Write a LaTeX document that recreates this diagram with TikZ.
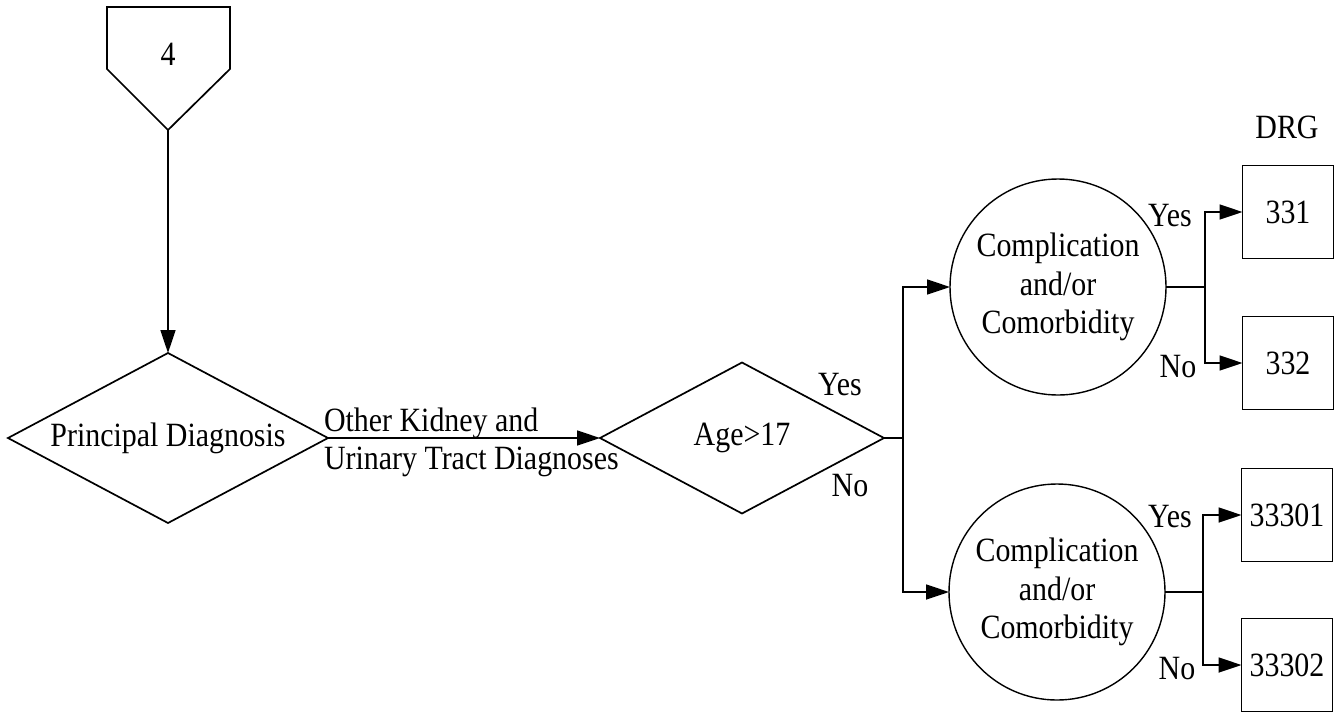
\documentclass[tikz,border=0pt]{standalone}
\usepackage{fontspec}
\setmainfont[FakeStretch=0.88]{Liberation Serif}
\usetikzlibrary{shapes.geometric,arrows.meta}

\begin{document}
\begin{tikzpicture}[
  x=1pt, y=-1pt,
  font=\fontsize{34}{38.5}\selectfont,
  line width=1.7pt,
  every node/.style={inner sep=0pt, outer sep=0pt},
  decision/.style={diamond, draw, aspect=1.9, minimum width=#1},
  ccnode/.style={circle, draw, minimum size=216pt, align=center, line width=1.4pt},
  drgbox/.style={rectangle, draw, minimum width=91pt, minimum height=93pt},
  arr/.style={-{Triangle[length=23pt,width=15pt]}}
]
\useasboundingbox (0,0) rectangle (1343,713);

% off-page connector
\draw (107,7) -- (230,7) -- (230,69) -- (168,130) -- (107,69) -- cycle;
\node (offpage) at (168,54) {4};
\coordinate (offtip) at (168,130);

% decisions
\node[decision=320pt, minimum height=170pt] (pd) at (168,438) {Principal Diagnosis};
\node[decision=284pt, minimum height=151pt] (age) at (742,438) {Age>17};

% complication checks
\node[ccnode] (cc1) at (1058,287) {Complication\\and/or\\Comorbidity};
\node[ccnode] (cc2) at (1057,592) {Complication\\and/or\\Comorbidity};

% DRG boxes
\node (drg) at (1287,127) {DRG};
\node[drgbox] (d331) at (1288,212) {331};
\node[drgbox] (d332) at (1288,363) {332};
\node[drgbox] (d33301) at (1287,515) {33301};
\node[drgbox] (d33302) at (1287,665) {33302};

% connectors
\draw[arr] (offtip) -- (pd.north);
\draw[arr] (pd.east) -- (age.west);
\node[anchor=base west] (kid1) at (324,431) {Other Kidney and};
\node[anchor=base west] (kid2) at (324,469) {Urinary Tract Diagnoses};

\draw (age.east) -- ++(19,0) coordinate (agesplit);
\draw[arr] (agesplit) |- (cc1.west);
\draw[arr] (agesplit) |- (cc2.west);
\node[anchor=base] (ageyes) at (840,395) {Yes};
\node[anchor=base] (ageno) at (850,496) {No};

\draw (cc1.east) -- ++(39,0) coordinate (split1);
\draw[arr] (split1) |- (d331.west);
\draw[arr] (split1) |- (d332.west);
\node[anchor=base] (yes1) at (1170,226) {Yes};
\node[anchor=base] (no1) at (1178,377) {No};

\draw (cc2.east) -- ++(38,0) coordinate (split2);
\draw[arr] (split2) |- (d33301.west);
\draw[arr] (split2) |- (d33302.west);
\node[anchor=base] (yes2) at (1170,527) {Yes};
\node[anchor=base] (no2) at (1177,679) {No};
\end{tikzpicture}
\end{document}
